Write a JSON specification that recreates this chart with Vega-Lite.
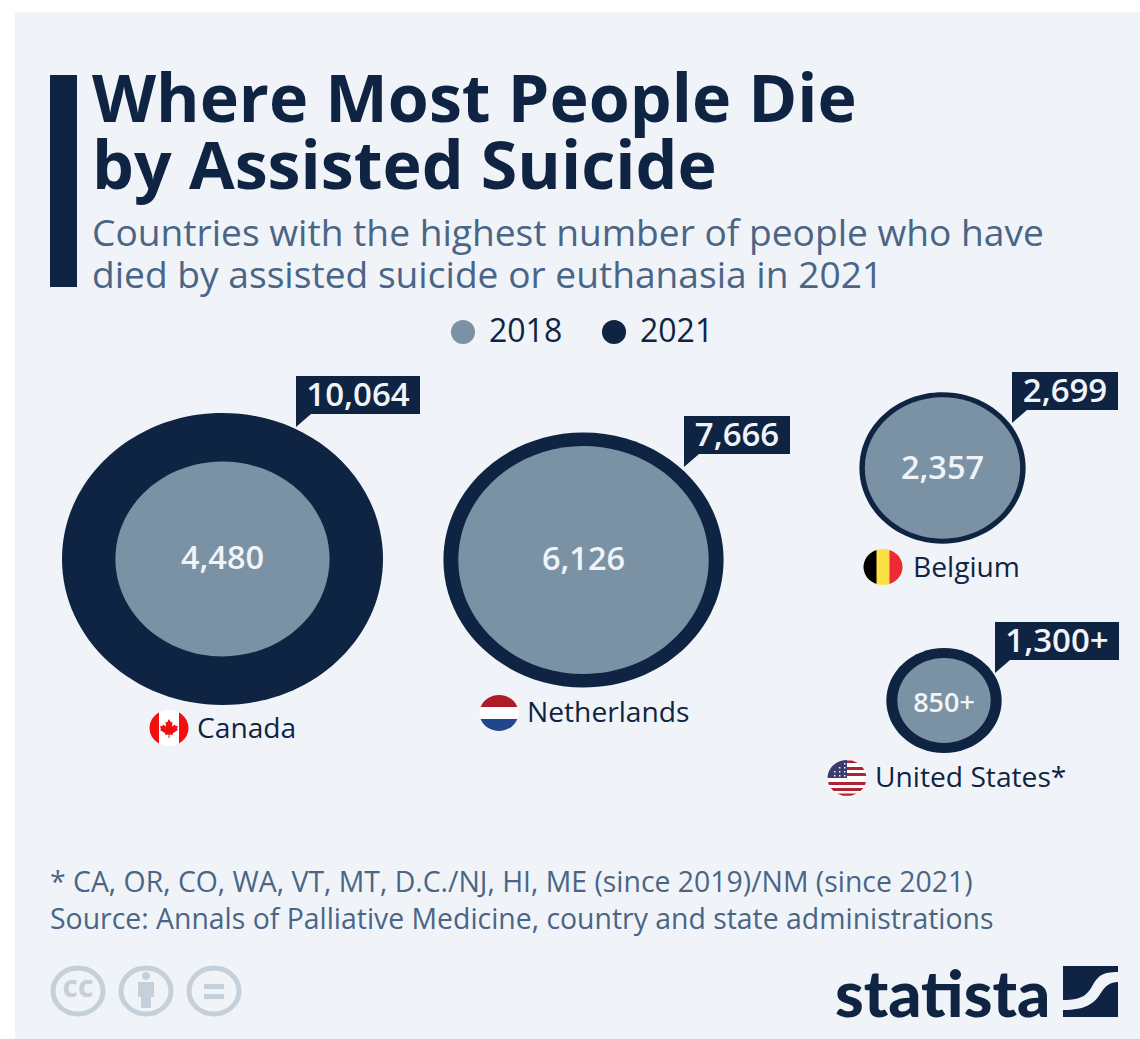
{
"$schema":"https://vega.github.io/schema/vega-lite/v6.json",
"width":1125,"height":1027,
"autosize":{"type":"none"},
"padding":{"left":15,"top":12,"right":0,"bottom":0},
"background":"#ffffff",
"view":{"fill":"#f0f4f9","stroke":null},
"config":{"font":"Open Sans"},
"title":{"text":["Where Most People Die","by Assisted Suicide"],"subtitle":["Countries with the highest number of people who have","died by assisted suicide or euthanasia in 2021"],"anchor":"start","frame":"group","offset":-284,"dx":77,"font":"Open Sans","fontWeight":"bold","fontSize":66.3,"lineHeight":67,"color":"#0f2442","subtitleFont":"Open Sans","subtitleFontSize":37.15,"subtitleLineHeight":42,"subtitleColor":"#4a6585","subtitlePadding":14},
"datasets":{
"deaths":[
{"rank":1,"country":"Canada","year":2021,"value":10064,"label":"10,064"},
{"rank":2,"country":"Netherlands","year":2021,"value":7666,"label":"7,666"},
{"rank":3,"country":"Belgium","year":2021,"value":2699,"label":"2,699"},
{"rank":4,"country":"United States*","year":2021,"value":1300,"label":"1,300+"},
{"rank":1,"country":"Canada","year":2018,"value":4480,"label":"4,480"},
{"rank":2,"country":"Netherlands","year":2018,"value":6126,"label":"6,126"},
{"rank":3,"country":"Belgium","year":2018,"value":2357,"label":"2,357"},
{"rank":4,"country":"United States*","year":2018,"value":850,"label":"850+"}
],
"flags":[
{"rank":1,"part":"white"},{"rank":1,"part":"ca-red"},
{"rank":2,"part":"white"},{"rank":2,"part":"nl-red"},{"rank":2,"part":"nl-blue"},
{"rank":3,"part":"yellow"},{"rank":3,"part":"be-black"},{"rank":3,"part":"be-red"},
{"rank":4,"part":"white"},{"rank":4,"part":"us-red"},{"rank":4,"part":"us-blue"},{"rank":4,"part":"us-stars"}
]
},
"data":{"name":"deaths"},
"layer":[
{"data":{"values":[{"item":"title bar"}]},"mark":{"type":"rect","x":35,"x2":62,"y":63,"y2":275,"fill":"#0f2442"},"encoding":{}},
{"mark":{"type":"point","filled":true,"opacity":1,"strokeWidth":0,"shape":"M-1 0C-1 -0.5026 -0.5523 -0.91 0 -0.91C0.5523 -0.91 1 -0.5026 1 0C1 0.5026 0.5523 0.91 0 0.91C-0.5523 0.91 -1 0.5026 -1 0Z"},
"encoding":{
"x":{"field":"rank","type":"quantitative","axis":null,"scale":{"domain":[1,2,3,4],"range":[207.5,568.5,927.5,929]}},
"y":{"field":"rank","type":"quantitative","axis":null,"scale":{"domain":[1,2,3,4],"range":[547,548,456,688.5]}},
"size":{"field":"value","type":"quantitative","legend":null,"scale":{"type":"linear","domain":[0,10064],"range":[0,103041]}},
"color":{"field":"year","type":"nominal","scale":{"domain":[2018,2021],"range":["#7a92a3","#0f2442"]},
"legend":{"title":null,"orient":"none","legendX":432,"legendY":304,"direction":"horizontal","symbolType":"circle","symbolSize":580,"symbolStrokeWidth":0,"labelFont":"Open Sans","labelFontSize":32,"labelColor":"#0f2442","labelOffset":10,"columnPadding":35,"padding":0}}
}},
{"transform":[{"filter":"datum.year === 2018"}],"mark":{"type":"text","align":"center","baseline":"middle","color":"#f0f4f9","fontWeight":600},
"encoding":{
"x":{"field":"rank","type":"quantitative","axis":null,"scale":{"domain":[1,2,3,4],"range":[207.5,568.5,927.5,929]}},
"y":{"field":"rank","type":"quantitative","axis":null,"scale":{"domain":[1,2,3,4],"range":[547,548,457,692]}},
"text":{"field":"label"},
"size":{"condition":{"test":"datum.rank === 4","value":27},"value":32.5}
}},
{"transform":[{"filter":"datum.year === 2021"}],"mark":{"type":"point","filled":true,"opacity":1,"strokeWidth":0,"size":4,"color":"#0f2442"},
"encoding":{
"x":{"field":"rank","type":"quantitative","axis":null,"scale":{"domain":[1,2,3,4],"range":[343,722,1050,1042]}},
"y":{"field":"rank","type":"quantitative","axis":null,"scale":{"domain":[1,2,3,4],"range":[383,423,379,629]}},
"shape":{"field":"country","type":"nominal","legend":null,"scale":{"domain":["Canada","Netherlands","Belgium","United States*"],"range":[
"M-62 -19H62V19H-47L-62 32Z","M-53 -19H53V19H-38L-53 32Z","M-53 -19H53V19H-38L-53 32Z","M-62 -19H62V19H-47L-62 32Z"]}}
}},
{"transform":[{"filter":"datum.year === 2021"}],"mark":{"type":"text","align":"center","baseline":"middle","color":"#f0f4f9","fontSize":33,"fontWeight":600,"dy":1},
"encoding":{
"x":{"field":"rank","type":"quantitative","axis":null,"scale":{"domain":[1,2,3,4],"range":[343,722,1050,1042]}},
"y":{"field":"rank","type":"quantitative","axis":null,"scale":{"domain":[1,2,3,4],"range":[383,423,379,629]}},
"text":{"field":"label"}
}},
{"data":{"name":"flags"},"mark":{"type":"point","filled":true,"opacity":1,"strokeWidth":0,"size":4},
"encoding":{
"x":{"field":"rank","type":"quantitative","axis":null,"scale":{"domain":[1,2,3,4],"range":[154,484,868,832]}},
"y":{"field":"rank","type":"quantitative","axis":null,"scale":{"domain":[1,2,3,4],"range":[716,701,555,766]}},
"shape":{"field":"part","type":"nominal","legend":null,"scale":{"domain":["white","yellow","ca-red","nl-red","nl-blue","be-black","be-red","us-red","us-blue","us-stars"],"range":[
"M-19.5 0A19.5 18 0 1 1 19.5 0A19.5 18 0 1 1 -19.5 0Z",
"M-19.5 0A19.5 18 0 1 1 19.5 0A19.5 18 0 1 1 -19.5 0Z",
"M-10 -15.45A19.5 18 0 0 0 -10 15.45ZM10 -15.45A19.5 18 0 0 1 10 15.45ZM0 -9L2 -5.5L3.5 -6.5L3 -1.5L6 -3.5L6.8 -1.8L9 -2L8 1L9 2L3.5 5.5L4 7L0.5 6.5V10H-0.5V6.5L-4 7L-3.5 5.5L-9 2L-8 1L-9 -2L-6.8 -1.8L-6 -3.5L-3 -1.5L-3.5 -6.5L-2 -5.5Z",
"M-18.38 -6A19.5 18 0 0 1 18.38 -6Z",
"M-18.38 6A19.5 18 0 0 0 18.38 6Z",
"M-6.5 -16.97A19.5 18 0 0 0 -6.5 16.97Z",
"M6.5 -16.97A19.5 18 0 0 1 6.5 16.97Z",
"M-19 4H19L18 7H-18ZM-16.2 10H16.2L13.5 13H-13.5ZM-9.9 15.5H9.9L4 17.7H-4ZM0 -17.5H5L11 -15H0ZM0 -11H15.4L17.3 -8H0ZM0 -5H18.5L19.4 -2H0Z",
"M-19.5 0A19.5 18 0 0 1 0 -18V0Z",
"M-13 -7h1.4v1.4h-1.4ZM-8 -7h1.4v1.4h-1.4ZM-3 -7h1.4v1.4h-1.4ZM-13 -3h1.4v1.4h-1.4ZM-8 -3h1.4v1.4h-1.4ZM-3 -3h1.4v1.4h-1.4ZM-8 -11h1.4v1.4h-1.4ZM-3 -11h1.4v1.4h-1.4ZM-3 -15h1.4v1.4h-1.4Z"
]}},
"color":{"field":"part","type":"nominal","legend":null,"scale":{"domain":["white","yellow","ca-red","nl-red","nl-blue","be-black","be-red","us-red","us-blue","us-stars"],"range":["#ffffff","#fae042","#f40f0f","#ae1c28","#21468b","#000000","#ed2939","#b22234","#3c3b6e","#ffffff"]}}
}},
{"transform":[{"filter":"datum.year === 2021"}],"mark":{"type":"text","align":"left","baseline":"middle","color":"#0f2442","fontSize":28.2},
"encoding":{
"x":{"field":"rank","type":"quantitative","axis":null,"scale":{"domain":[1,2,3,4],"range":[182,512,898,860]}},
"y":{"field":"rank","type":"quantitative","axis":null,"scale":{"domain":[1,2,3,4],"range":[718,702,557,767]}},
"text":{"field":"country"}
}},
{"data":{"values":[{"line":1,"note":"* CA, OR, CO, WA, VT, MT, D.C./NJ, HI, ME (since 2019)/NM (since 2021)"},{"line":2,"note":"Source: Annals of Palliative Medicine, country and state administrations"}]},
"mark":{"type":"text","align":"left","baseline":"middle","color":"#4a6585","fontSize":28.4},
"encoding":{
"x":{"value":35},
"y":{"field":"line","type":"quantitative","axis":null,"scale":{"domain":[1,2],"range":[871,908]}},
"text":{"field":"note"}
}},
{"data":{"values":[{"icon":"cc"},{"icon":"by"},{"icon":"nd"}]},
"mark":{"type":"point","filled":false,"opacity":1,"size":4,"stroke":"#c5d0da","strokeWidth":5,"shape":"M-25 0A25 23 0 1 1 25 0A25 23 0 1 1 -25 0Z"},
"encoding":{
"x":{"field":"icon","type":"nominal","axis":null,"scale":{"type":"point","domain":["cc","by","nd"],"range":[63,199],"padding":0}},
"y":{"value":979}
}},
{"data":{"values":[{"icon":"by"},{"icon":"nd"}]},
"mark":{"type":"point","filled":true,"opacity":1,"strokeWidth":0,"size":4,"color":"#c5d0da"},
"encoding":{
"x":{"field":"icon","type":"nominal","axis":null,"scale":{"type":"point","domain":["cc","by","nd"],"range":[63,199],"padding":0}},
"y":{"value":979},
"shape":{"field":"icon","type":"nominal","legend":null,"scale":{"domain":["by","nd"],"range":[
"M-4 -15A4 4 0 1 1 4 -15A4 4 0 1 1 -4 -15ZM-8 -9H8V6H5V17H-5V6H-8Z",
"M-10 -7H10V-2H-10ZM-10 3H10V8H-10Z"]}}
}},
{"data":{"values":[{"icon":"cc"}]},
"mark":{"type":"text","align":"center","baseline":"middle","color":"#c5d0da","fontWeight":"bold","fontSize":30,"dy":-3},
"encoding":{
"x":{"field":"icon","type":"nominal","axis":null,"scale":{"type":"point","domain":["cc","by","nd"],"range":[63,199],"padding":0}},
"y":{"value":979},
"text":{"field":"icon"}
}},
{"data":{"values":[{"brand":"statista"}]},
"mark":{"type":"text","align":"left","baseline":"alphabetic","color":"#0f2442","font":"Lato","fontWeight":900,"fontSize":65},
"encoding":{
"x":{"value":820},
"y":{"value":1005},
"text":{"field":"brand"}
}},
{"data":{"values":[{"brand":"statista"}]},
"mark":{"type":"point","filled":true,"opacity":1,"strokeWidth":0,"size":4,"color":"#0f2442","shape":"M-27.5 -25.5H27.5V-19.5C12 -19.5 8 -16 2 -6C-3 3 -8 8.5 -27.5 8.5ZM27.5 -9.5V25.5H-27.5V18.5C-5 18.5 4 12 10 2C15 -6 20 -9.5 27.5 -9.5Z"},
"encoding":{
"x":{"value":1075.5},
"y":{"value":979.5}
}}
],
"resolve":{"scale":{"x":"independent","y":"independent","color":"independent","shape":"independent","size":"independent"}}
}
